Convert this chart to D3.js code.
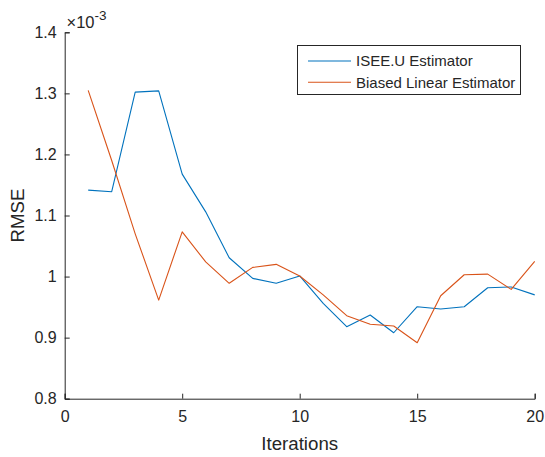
<!DOCTYPE html>
<html><head><meta charset="utf-8">
<script src="https://cdn.jsdelivr.net/npm/d3@7"></script>
<style>body{margin:0;background:#fff}text{font-family:"Liberation Sans",Arial,sans-serif;fill:#262626}</style>
</head><body><svg id="c" width="545" height="457"></svg>
<script>
const iterations = d3.range(1, 21);
const iseeU = [1.1416,1.1390,1.3020,1.3040,1.1678,1.1060,1.0308,0.9970,0.9890,1.0010,0.9560,0.9180,0.9370,0.9080,0.9506,0.9470,0.9506,0.9817,0.9830,0.9700];
const biased = [1.3050,1.1900,1.0700,0.9615,1.0733,1.0240,0.9890,1.0150,1.0200,1.0010,0.9700,0.9360,0.9220,0.9190,0.8917,0.9686,1.0030,1.0040,0.9790,1.0250];
const seriesNames = ["ISEE.U Estimator","Biased Linear Estimator"];
const colors = ["#0072BD","#D95319"];
const xTicks = [0,5,10,15,20];
const yTicks = [0.8,0.9,1.0,1.1,1.2,1.3,1.4];

const svg = d3.select("#c");
const x = d3.scaleLinear().domain([0,20]).range([64.7,534.7]);
const y = d3.scaleLinear().domain([0.8,1.4]).range([398.7,32.3]);

const fmt = v => (Math.abs(v-1)<1e-9 ? "1" : d3.format(".1f")(v));
const xa = svg.append("g").attr("transform","translate(0,398.7)")
  .call(d3.axisBottom(x).tickValues(xTicks).tickSize(-5).tickPadding(12).tickFormat(d3.format("d")));
const ya = svg.append("g").attr("transform","translate(64.7,0)")
  .call(d3.axisLeft(y).tickValues(yTicks).tickSize(-5).tickPadding(8).tickFormat(fmt));
[xa,ya].forEach(a=>{
  a.attr("font-size",16).attr("font-family",null);
  a.select(".domain").attr("stroke","#262626").attr("stroke-width",1);
  a.selectAll(".tick line").attr("stroke","#262626");
  a.selectAll(".tick text").style("fill","#262626");
});

const line = d3.line().x((d,i)=>x(iterations[i])).y(d=>y(d));
[iseeU,biased].forEach((s,k)=>{
  svg.append("path").datum(s).attr("d",line).attr("fill","none")
    .attr("stroke",colors[k]).attr("stroke-width",1.1).attr("stroke-linejoin","round");
});

// exponent
const ex = svg.append("text").attr("x",66.5).attr("y",28.3).style("font-size","16.5px");
ex.append("tspan").style("font-size","16.5px").text("\u00d710");
ex.append("tspan").attr("dy",-8).style("font-size","13.5px").text("-3");

// axis labels
svg.append("text").attr("x",x(10)).attr("y",450).attr("text-anchor","middle").style("font-size","18.7px").text("Iterations");
svg.append("text").attr("transform","translate(23.5,"+y(1.1)+") rotate(-90)").attr("text-anchor","middle").style("font-size","18.7px").text("RMSE");

// legend
const lg = svg.append("g");
lg.append("rect").attr("x",297.5).attr("y",45.5).attr("width",223).attr("height",49).attr("fill","#fff").attr("stroke","#262626").attr("stroke-width",1);
seriesNames.forEach((n,k)=>{
  const yy = 61 + k*21.3;
  lg.append("line").attr("x1",308).attr("x2",351).attr("y1",yy).attr("y2",yy).attr("stroke",colors[k]).attr("stroke-width",1.1);
  lg.append("text").attr("x",356).attr("y",yy).attr("dy","0.35em").style("font-size","15px").text(n);
});
</script></body></html>
